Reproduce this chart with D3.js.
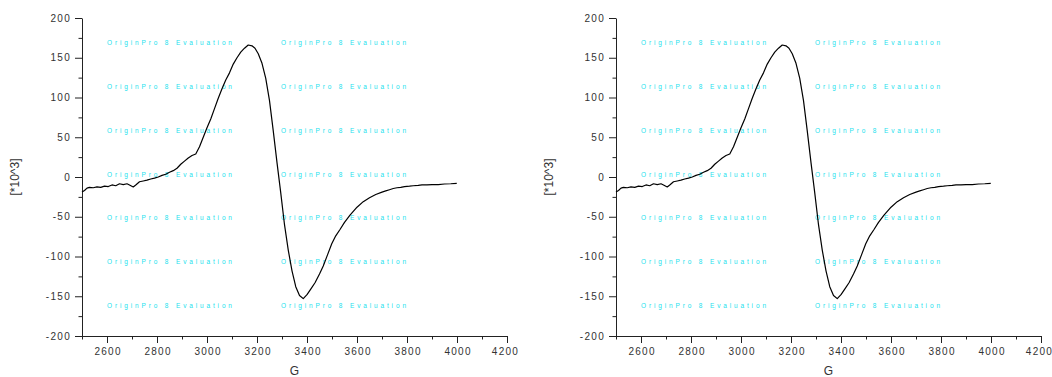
<!DOCTYPE html>
<html>
<head>
<meta charset="utf-8">
<script src="https://cdn.jsdelivr.net/npm/d3@7"></script>
<style>
  html, body { margin: 0; padding: 0; background: #fff; }
  svg text { font-family: "Liberation Sans", Arial, sans-serif; }
  .tick text { fill: #333; font-size: 10px; letter-spacing: 1.3px; }
  .domain, .tick line { stroke: #222; }
</style>
</head>
<body>
<svg id="chart" width="1052" height="377"></svg>
<script>
// field (G)
const fieldG = [
  2500, 2510, 2520, 2530, 2545, 2560, 2575, 2590, 2605, 2620,
  2635, 2650, 2665, 2680, 2690, 2705, 2715, 2730, 2745, 2760,
  2775, 2790, 2805, 2820, 2835, 2850, 2865, 2880, 2895, 2910,
  2925, 2940, 2955, 2970, 2985, 3000, 3015, 3030, 3045, 3060,
  3075, 3090, 3105, 3120, 3135, 3150, 3165, 3180, 3192, 3205,
  3220, 3235, 3250, 3265, 3280, 3295, 3310, 3325, 3340, 3355,
  3370, 3385, 3400, 3415, 3432, 3450, 3465, 3482, 3499, 3515,
  3532, 3550, 3572, 3600, 3625, 3650, 3675, 3700, 3715, 3730,
  3745, 3760, 3775, 3790, 3810, 3825, 3845, 3860, 3880, 3900,
  3925, 3950, 3975, 3999
];
// signal [*10^3]
const signal = [
  -19, -17, -14, -13, -13.5, -12.5, -13, -11.5, -12, -10,
  -11, -8.5, -9.5, -8.5, -10, -12.5, -10, -6, -5, -4,
  -2.5, -1.5, 0, 2, 3.5, 6, 8, 11, 16, 20,
  24, 27, 29, 38, 50, 62, 73, 86, 99, 111,
  122, 131, 142, 150, 157, 162, 166, 165, 162, 155,
  143, 124, 96, 58, 18, -20, -60, -92, -118, -138,
  -149, -153, -148, -141, -133, -122, -112, -98, -84, -74,
  -66, -57, -48, -38, -31, -26, -22, -19, -17.5, -16,
  -14.5, -13.5, -13, -12, -11.5, -11, -10.5, -10, -10, -9.5,
  -9.5, -8.8, -8.5, -8
];
const xMajorTicks = [2600, 2800, 3000, 3200, 3400, 3600, 3800, 4000, 4200];
const xMinorTicks = [2500, 2700, 2900, 3100, 3300, 3500, 3700, 3900, 4100];
const yMajorTicks = [-200, -150, -100, -50, 0, 50, 100, 150, 200];
const yMinorTicks = [-175, -125, -75, -25, 25, 75, 125, 175];
const watermark = "OriginPro 8 Evaluation";
const xTitle = "G";
const yTitle = "[*10^3]";
const panels = [82, 616];

const data = fieldG.map((g, i) => ({ g, v: signal[i] }));
const svg = d3.select('#chart');
const fmt = d => String(d);

function drawPanel(left) {
  const top = 18, bottom = 336, right = left + 425;
  const x = d3.scaleLinear().domain([2500, 4200]).range([left, right]);
  const y = d3.scaleLinear().domain([-200, 200]).range([bottom, top]);
  const g = svg.append('g');

  // watermark
  const rows = d3.range(7).map(i => 43 + i * 43.8);
  [25, 199].forEach(dx => {
    g.selectAll(null).data(rows).enter().append('text')
      .attr('x', left + dx).attr('y', d => d + 2.2)
      .attr('textLength', 125).attr('lengthAdjust', 'spacing')
      .attr('font-size', 6.5).attr('fill', '#22dfee')
      .text(watermark);
  });

  // minor ticks
  g.append('g').attr('transform', `translate(0,${bottom})`)
    .call(d3.axisBottom(x).tickValues(xMinorTicks).tickSize(3.5).tickFormat(''))
    .call(a => a.select('.domain').remove());
  g.append('g').attr('transform', `translate(${left},0)`)
    .call(d3.axisLeft(y).tickValues(yMinorTicks).tickSize(3.5).tickFormat(''))
    .call(a => a.select('.domain').remove());

  // major axes
  g.append('g').attr('transform', `translate(0,${bottom})`)
    .call(d3.axisBottom(x).tickValues(xMajorTicks).tickFormat(fmt).tickSize(7).tickSizeOuter(0).tickPadding(5))
    .call(a => a.selectAll('text').attr('dx', d => d === 4200 ? '-2px' : '0.6px'));
  g.append('g').attr('transform', `translate(${left},0)`)
    .call(d3.axisLeft(y).tickValues(yMajorTicks).tickFormat(fmt).tickSize(7).tickSizeOuter(0).tickPadding(4));

  // curve
  g.append('path').datum(data)
    .attr('fill', 'none').attr('stroke', '#000').attr('stroke-width', 1.2)
    .attr('stroke-linejoin', 'round')
    .attr('d', d3.line().x(d => x(d.g)).y(d => y(d.v)));

  // titles
  g.append('text').attr('x', (left + right) / 2).attr('y', 374.5)
    .attr('text-anchor', 'middle').attr('font-size', 12).attr('fill', '#333')
    .text(xTitle);
  g.append('text')
    .attr('transform', `translate(${left - 63},${(top + bottom) / 2}) rotate(-90)`)
    .attr('text-anchor', 'middle').attr('font-size', 12).attr('fill', '#333')
    .text(yTitle);
}

panels.forEach(drawPanel);
</script>
</body>
</html>
